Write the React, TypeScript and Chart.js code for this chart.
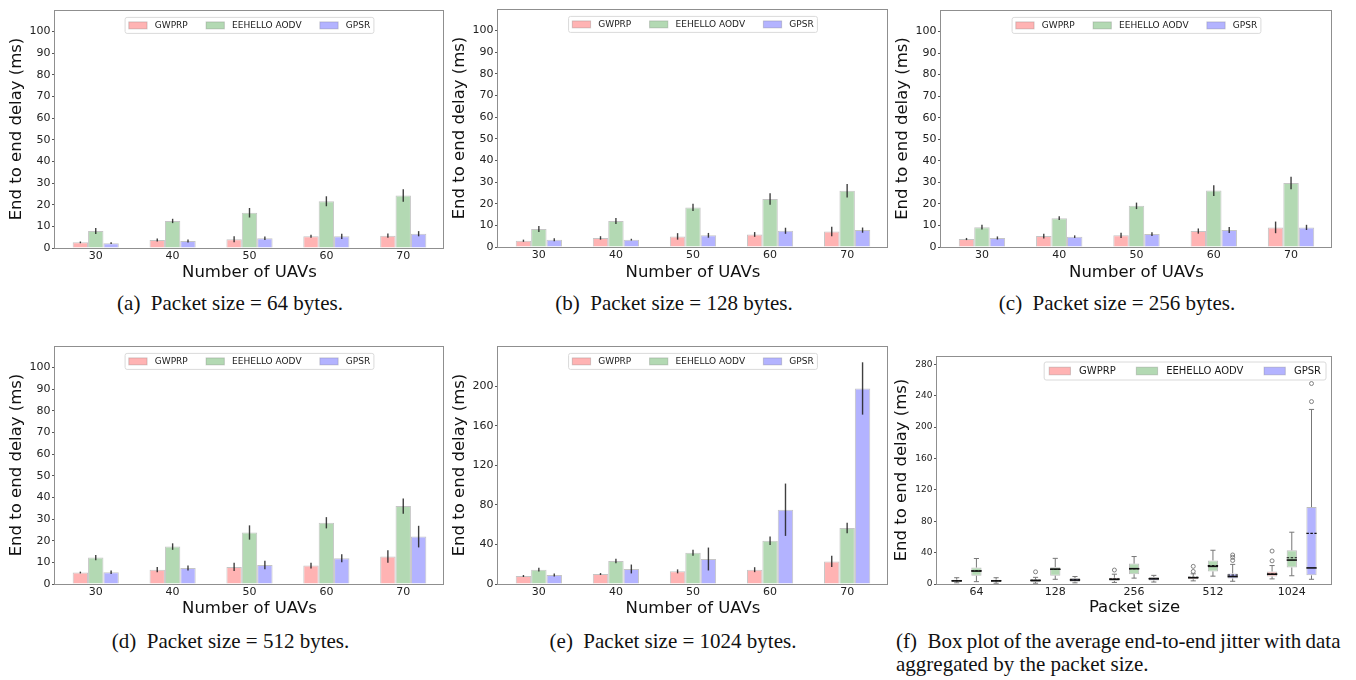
import React, { useEffect, useRef } from 'react';
import { Chart, registerables } from 'chart.js';

Chart.register(...registerables);

const FONT = 'DejaVu Sans';
Chart.defaults.font.family = FONT;

const seriesNames = ['GWPRP', 'EEHELLO AODV', 'GPSR'];
const seriesFill = ['#FFB3B3', '#B3D9B3', '#B3B3FF'];
const uavLabels = ['30', '40', '50', '60', '70'];
const packetLabels = ['64', '128', '256', '512', '1024'];
const yTicks100 = [0, 10, 20, 30, 40, 50, 60, 70, 80, 90, 100];
const yTicks200 = [0, 40, 80, 120, 160, 200];
const yTicks280 = [0, 40, 80, 120, 160, 200, 240, 280];

// (a) packet size 64 bytes
const aGWPRP = [2.6, 3.7, 4.0, 5.4, 5.7];
const aEEHELLO = [7.9, 12.5, 16.3, 21.6, 24.3];
const aGPSR = [2.2, 3.2, 4.5, 5.4, 6.6];
const aGWPRPErr = [0.4, 0.7, 1.4, 0.7, 1.0];
const aEEHELLOErr = [1.4, 1.0, 2.2, 2.3, 2.9];
const aGPSRErr = [0.4, 0.7, 0.8, 1.2, 1.2];

// (b) packet size 128 bytes
const bGWPRP = [2.9, 4.2, 4.9, 5.8, 7.2];
const bEEHELLO = [8.3, 12.0, 18.3, 22.2, 26.0];
const bGPSR = [3.4, 3.4, 5.4, 7.5, 7.8];
const bGWPRPErr = [0.5, 0.8, 1.5, 1.1, 2.2];
const bEEHELLOErr = [1.4, 1.4, 1.7, 2.7, 3.1];
const bGPSRErr = [0.7, 0.4, 1.1, 1.4, 1.2];

// (c) packet size 256 bytes
const cGWPRP = [3.7, 5.1, 5.4, 7.4, 9.1];
const cEEHELLO = [9.2, 13.4, 19.1, 26.2, 29.7];
const cGPSR = [4.2, 4.8, 6.0, 7.9, 9.1];
const cGWPRPErr = [0.5, 1.1, 1.2, 1.2, 2.7];
const cEEHELLOErr = [1.1, 0.9, 1.5, 2.5, 2.9];
const cGPSRErr = [0.7, 0.6, 0.9, 1.4, 1.2];

// (d) packet size 512 bytes
const dGWPRP = [5.3, 6.6, 7.9, 8.5, 12.7];
const dEEHELLO = [12.2, 17.3, 23.8, 28.3, 36.0];
const dGPSR = [5.4, 7.4, 8.8, 11.9, 21.9];
const dGWPRPErr = [0.4, 1.2, 1.9, 1.3, 2.9];
const dEEHELLOErr = [1.2, 1.5, 3.3, 2.6, 3.5];
const dGPSRErr = [0.8, 1.2, 2.0, 1.8, 5.0];

// (e) packet size 1024 bytes
const eGWPRP = [8.1, 10.1, 12.8, 14.5, 22.9];
const eEEHELLO = [14.5, 23.3, 31.7, 43.8, 56.7];
const eGPSR = [9.1, 15.2, 25.3, 75.2, 198];
const eGWPRPErr = [1.0, 1.0, 2.0, 2.5, 5.7];
const eEEHELLOErr = [1.9, 2.2, 3.0, 4.4, 5.4];
const eGPSRErr = [1.5, 4.5, 11.6, 26.5, 26.5];

// (f) box stats per packet size: [low whisker, q1, median, mean, q3, high whisker]
const fGWPRP = [
  [1.5, 3, 4, 4.2, 5.5, 8],
  [1, 2.5, 4.5, 4.6, 6, 8.5],
  [2, 4, 6, 6.3, 8, 12.5],
  [4, 6, 8, 8.5, 9.5, 13],
  [6.5, 9.5, 12.5, 12.8, 16, 23.5],
];
const fEEHELLO = [
  [3, 10.5, 16.5, 16.8, 21, 32.5],
  [6, 10.5, 19, 18.5, 21.5, 32.7],
  [7.5, 12.5, 19.5, 19.5, 26, 35],
  [10, 16, 22.5, 23.5, 30, 43],
  [10.5, 21, 30.5, 33.5, 43, 66],
];
const fGPSR = [
  [1, 2.5, 4, 4.3, 5.5, 8],
  [1.5, 3, 5, 5.5, 7.5, 9.5],
  [2.5, 4.5, 6.5, 7, 9, 11],
  [3.5, 7, 9.5, 11.5, 13.5, 25],
  [6, 11, 20.5, 64.5, 98, 222.5],
];
const fGWPRPOut = [[], [15.5], [17.8], [16, 22.5], [29.5, 42]];
const fEEHELLOOut = [[], [], [], [], []];
const fGPSROut = [[], [], [], [30, 34, 37], [232.5, 255.5]];
const boxOffsets = [-0.25, 0, 0.25];

type Rect = { l: number; t: number; r: number; b: number };
type Frame = { cx: number; cy: number; cw: number; ch: number; plot: Rect; yTitleX: number; xTitleY: number };

const frameA: Frame = { cx: 4, cy: 0, cw: 444, ch: 285, plot: { l: 55, t: 10, r: 444, b: 248 }, yTitleX: 16.4, xTitleY: 272.3 };
const frameB: Frame = { cx: 447, cy: 0, cw: 445, ch: 285, plot: { l: 498, t: 9, r: 888, b: 247 }, yTitleX: 459.4, xTitleY: 272.3 };
const frameC: Frame = { cx: 890, cy: 0, cw: 446, ch: 285, plot: { l: 941, t: 10, r: 1332, b: 247 }, yTitleX: 902.4, xTitleY: 272.3 };
const frameD: Frame = { cx: 4, cy: 328, cw: 444, ch: 293, plot: { l: 55, t: 346, r: 444, b: 584 }, yTitleX: 16.4, xTitleY: 608.3 };
const frameE: Frame = { cx: 447, cy: 328, cw: 445, ch: 293, plot: { l: 498, t: 346, r: 888, b: 584 }, yTitleX: 459.4, xTitleY: 608.3 };
const frameF: Frame = { cx: 890, cy: 328, cw: 446, ch: 293, plot: { l: 937, t: 356, r: 1332, b: 584 }, yTitleX: 902.1, xTitleY: 607.6 };

const framePlugin = {
  id: 'frame',
  afterDatasetsDraw(chart: any) {
    const { ctx, chartArea: a } = chart;
    ctx.save();
    ctx.strokeStyle = '#8f8f8f';
    ctx.lineWidth = 1;
    const l = Math.round(a.left) - 0.5;
    const t = Math.round(a.top) + 0.5;
    const r = Math.round(a.right) - 0.5;
    const b = Math.round(a.bottom) + 0.5;
    ctx.strokeRect(l, t, r - l, b - t);
    ctx.restore();
  },
};

function makeErrorPlugin(errors: number[][]) {
  return {
    id: 'errorBars',
    afterDatasetsDraw(chart: any) {
      const { ctx } = chart;
      const ys = chart.scales.y;
      ctx.save();
      ctx.strokeStyle = 'rgba(30,30,30,0.85)';
      ctx.lineWidth = 1.4;
      errors.forEach((errs, k) => {
        const meta = chart.getDatasetMeta(k);
        const ds = chart.data.datasets[k];
        errs.forEach((e, i) => {
          const el = meta.data[i];
          const v = ds.data[i].y;
          ctx.beginPath();
          ctx.moveTo(el.x, ys.getPixelForValue(v + e));
          ctx.lineTo(el.x, ys.getPixelForValue(v - e));
          ctx.stroke();
        });
      });
      ctx.restore();
    },
  };
}

function makeBoxPlugin(stats: number[][][]) {
  return {
    id: 'boxExtras',
    afterDatasetsDraw(chart: any) {
      const { ctx } = chart;
      const ys = chart.scales.y;
      const py = (v: number) => ys.getPixelForValue(v);
      const line = (x1: number, y1: number, x2: number, y2: number) => {
        ctx.beginPath();
        ctx.moveTo(x1, y1);
        ctx.lineTo(x2, y2);
        ctx.stroke();
      };
      ctx.save();
      stats.forEach((series, k) => {
        const meta = chart.getDatasetMeta(k);
        series.forEach((s, i) => {
          const el = meta.data[i];
          const cx = el.x;
          const w = el.width;
          const [lo, q1, med, mean, q3, hi] = s;
          ctx.setLineDash([]);
          ctx.strokeStyle = '#777';
          ctx.lineWidth = 1;
          line(cx, py(q3), cx, py(hi));
          line(cx, py(q1), cx, py(lo));
          line(cx - w / 4, py(hi), cx + w / 4, py(hi));
          line(cx - w / 4, py(lo), cx + w / 4, py(lo));
          ctx.strokeStyle = '#111';
          ctx.lineWidth = 1.6;
          line(cx - w / 2, py(med), cx + w / 2, py(med));
          ctx.setLineDash([2.5, 1.5]);
          ctx.lineWidth = 1.1;
          line(cx - w / 2, py(mean), cx + w / 2, py(mean));
        });
      });
      ctx.restore();
    },
  };
}

type LegendStyle = {
  fontSize: number; patchW: number; patchH: number; gap: number; colSpacing: number;
  padX: number; boxH: number; align: 'center' | 'right'; insetTop: number; insetRight: number;
};

const smallLegend: LegendStyle = { fontSize: 9, patchW: 18.3, patchH: 7, gap: 7.7, colSpacing: 18.3, padX: 3.7, boxH: 16, align: 'center', insetTop: 7.4, insetRight: 0 };
const boxLegend: LegendStyle = { fontSize: 10, patchW: 21.3, patchH: 7.7, gap: 8.6, colSpacing: 20.6, padX: 5, boxH: 18, align: 'right', insetTop: 6, insetRight: 6 };

function makeLegend(s: LegendStyle) {
  return {
    id: 'insideLegend',
    afterDraw(chart: any) {
      const { ctx, chartArea: ca } = chart;
      ctx.save();
      ctx.font = `${s.fontSize}px "${FONT}"`;
      const widths = seriesNames.map((n) => ctx.measureText(n).width);
      const itemW = widths.map((w) => s.patchW + s.gap + w);
      const total = 2 * s.padX + itemW.reduce((a, b) => a + b, 0) + s.colSpacing * (itemW.length - 1);
      const x0 = s.align === 'center' ? (ca.left + ca.right) / 2 - total / 2 : ca.right - s.insetRight - total;
      const y0 = ca.top + s.insetTop;
      ctx.beginPath();
      if (typeof ctx.roundRect === 'function') ctx.roundRect(x0, y0, total, s.boxH, 2);
      else ctx.rect(x0, y0, total, s.boxH);
      ctx.fillStyle = 'rgba(255,255,255,0.85)';
      ctx.fill();
      ctx.strokeStyle = '#dadada';
      ctx.lineWidth = 1;
      ctx.stroke();
      let x = x0 + s.padX;
      const cy = y0 + s.boxH / 2;
      seriesNames.forEach((n, i) => {
        ctx.fillStyle = seriesFill[i];
        ctx.fillRect(x, cy - s.patchH / 2, s.patchW, s.patchH);
        ctx.strokeStyle = 'rgba(90,90,90,0.25)';
        ctx.strokeRect(x, cy - s.patchH / 2, s.patchW, s.patchH);
        ctx.fillStyle = '#1a1a1a';
        ctx.textBaseline = 'middle';
        ctx.textAlign = 'left';
        ctx.fillText(n, x + s.patchW + s.gap, cy);
        x += itemW[i] + s.colSpacing;
      });
      ctx.restore();
    },
  };
}

function scalesFor(f: Frame, o: { xMin: number; xMax: number; xLabels: string[]; xTitle: string; yMax: number; yTicks: number[]; yTickSize: number }) {
  return {
    x: {
      type: 'linear',
      min: o.xMin,
      max: o.xMax,
      offset: false,
      afterBuildTicks: (sc: any) => {
        sc.ticks = o.xLabels.map((_, i) => ({ value: i }));
      },
      afterFit: (sc: any) => {
        sc.height = f.cy + f.ch - f.plot.b;
      },
      ticks: {
        autoSkip: false,
        maxRotation: 0,
        minRotation: 0,
        padding: -1,
        color: '#222',
        font: { family: FONT, size: 11 },
        callback: (v: any) => o.xLabels[Math.round(v)] ?? '',
      },
      grid: { display: true, drawOnChartArea: false, drawTicks: true, tickLength: 3, color: 'rgba(0,0,0,0)', offset: false },
      border: { display: false },
      title: {
        display: true,
        text: o.xTitle,
        color: '#111',
        font: { family: FONT, size: 16.5 },
        padding: { top: 0, bottom: f.cy + f.ch - f.xTitleY - 9.9 },
      },
    },
    y: {
      type: 'linear',
      min: 0,
      max: o.yMax,
      afterBuildTicks: (sc: any) => {
        sc.ticks = o.yTicks.map((v) => ({ value: v }));
      },
      afterFit: (sc: any) => {
        sc.width = f.plot.l - f.cx;
      },
      ticks: { padding: 1.5, color: '#222', font: { family: FONT, size: o.yTickSize } },
      grid: { drawOnChartArea: false, drawTicks: true, tickLength: 3, color: '#555' },
      border: { display: false },
      title: {
        display: true,
        text: 'End to end delay (ms)',
        color: '#111',
        font: { family: FONT, size: 16.5 },
        padding: { top: f.yTitleX - f.cx - 9.9, bottom: 0 },
      },
    },
  };
}

function baseOptions(f: Frame, scales: any) {
  return {
    responsive: false,
    animation: false,
    events: [],
    layout: {
      autoPadding: false,
      padding: { left: 0, top: f.plot.t - f.cy, right: f.cx + f.cw - f.plot.r, bottom: 0 },
    },
    plugins: { legend: { display: false }, tooltip: { enabled: false }, title: { display: false } },
    scales,
  };
}

function barConfig(f: Frame, values: number[][], errors: number[][], yMax: number, yTicks: number[]) {
  return {
    type: 'bar',
    data: {
      datasets: values.map((vals, k) => ({
        label: seriesNames[k],
        data: vals.map((v, i) => ({ x: i, y: v })),
        backgroundColor: seriesFill[k],
        borderColor: 'rgba(90,90,90,0.35)',
        borderWidth: 1,
        categoryPercentage: 0.6,
        barPercentage: 1,
      })),
    },
    options: baseOptions(
      f,
      scalesFor(f, { xMin: -0.53, xMax: 4.53, xLabels: uavLabels, xTitle: 'Number of UAVs', yMax, yTicks, yTickSize: 11 })
    ),
    plugins: [framePlugin, makeErrorPlugin(errors), makeLegend(smallLegend)],
  };
}

function boxConfig(f: Frame) {
  const stats = [fGWPRP, fEEHELLO, fGPSR];
  const outs = [fGWPRPOut, fEEHELLOOut, fGPSROut];
  return {
    type: 'bar',
    data: {
      datasets: [
        ...stats.map((series, k) => ({
          type: 'bar',
          label: seriesNames[k],
          data: series.map((s, i) => ({ x: i + boxOffsets[k], y: [s[1], s[4]] })),
          backgroundColor: seriesFill[k],
          borderColor: 'rgba(90,90,90,0.4)',
          borderWidth: 1,
          borderSkipped: false,
          grouped: false,
          categoryPercentage: 1,
          barPercentage: 0.52,
        })),
        ...outs.map((series, k) => ({
          type: 'scatter',
          label: seriesNames[k] + ' outliers',
          data: series.flatMap((arr, i) => arr.map((v) => ({ x: i + boxOffsets[k], y: v }))),
          pointStyle: 'circle',
          pointRadius: 2,
          backgroundColor: 'rgba(0,0,0,0)',
          borderColor: '#666',
          borderWidth: 0.8,
          showLine: false,
        })),
      ],
    },
    options: baseOptions(
      f,
      scalesFor(f, { xMin: -0.5, xMax: 4.51, xLabels: packetLabels, xTitle: 'Packet size', yMax: 290.6, yTicks: yTicks280, yTickSize: 9 })
    ),
    plugins: [framePlugin, makeBoxPlugin(stats), makeLegend(boxLegend)],
  };
}

function ChartPanel({ frame, build }: { frame: Frame; build: () => any }) {
  const ref = useRef<HTMLCanvasElement>(null);
  useEffect(() => {
    const chart = new Chart(ref.current as HTMLCanvasElement, build());
    return () => chart.destroy();
  }, []);
  return (
    <canvas
      ref={ref}
      width={frame.cw}
      height={frame.ch}
      style={{ position: 'absolute', left: frame.cx, top: frame.cy, width: frame.cw, height: frame.ch }}
    />
  );
}

const captionStyle: React.CSSProperties = {
  position: 'absolute',
  fontFamily: '"Liberation Serif", serif',
  fontSize: 21,
  lineHeight: '24px',
  color: '#111',
  whiteSpace: 'nowrap',
};

function Caption({ center, top, text }: { center: number; top: number; text: string }) {
  return <div style={{ ...captionStyle, left: center - 220, width: 440, top, textAlign: 'center' }}>{text}</div>;
}

export default function App() {
  return (
    <div style={{ position: 'fixed', left: 0, top: 0, width: 1356, height: 680, background: '#fff', overflow: 'hidden' }}>
      <ChartPanel frame={frameA} build={() => barConfig(frameA, [aGWPRP, aEEHELLO, aGPSR], [aGWPRPErr, aEEHELLOErr, aGPSRErr], 110, yTicks100)} />
      <ChartPanel frame={frameB} build={() => barConfig(frameB, [bGWPRP, bEEHELLO, bGPSR], [bGWPRPErr, bEEHELLOErr, bGPSRErr], 110, yTicks100)} />
      <ChartPanel frame={frameC} build={() => barConfig(frameC, [cGWPRP, cEEHELLO, cGPSR], [cGWPRPErr, cEEHELLOErr, cGPSRErr], 110, yTicks100)} />
      <ChartPanel frame={frameD} build={() => barConfig(frameD, [dGWPRP, dEEHELLO, dGPSR], [dGWPRPErr, dEEHELLOErr, dGPSRErr], 110, yTicks100)} />
      <ChartPanel frame={frameE} build={() => barConfig(frameE, [eGWPRP, eEEHELLO, eGPSR], [eGWPRPErr, eEEHELLOErr, eGPSRErr], 241, yTicks200)} />
      <ChartPanel frame={frameF} build={() => boxConfig(frameF)} />
      <Caption center={230} top={290.9} text={'(a)\u2002Packet size = 64 bytes.'} />
      <Caption center={674} top={290.9} text={'(b)\u2002Packet size = 128 bytes.'} />
      <Caption center={1117} top={290.9} text={'(c)\u2002Packet size = 256 bytes.'} />
      <Caption center={230.5} top={629.2} text={'(d)\u2002Packet size = 512 bytes.'} />
      <Caption center={673} top={629.2} text={'(e)\u2002Packet size = 1024 bytes.'} />
      <div style={{ ...captionStyle, left: 896, top: 629.2, wordSpacing: '-1px' }}>
        {'(f)\u2002Box plot of the average end-to-end jitter with data'}
      </div>
      <div style={{ ...captionStyle, left: 896, top: 651.9 }}>{'aggregated by the packet size.'}</div>
    </div>
  );
}
